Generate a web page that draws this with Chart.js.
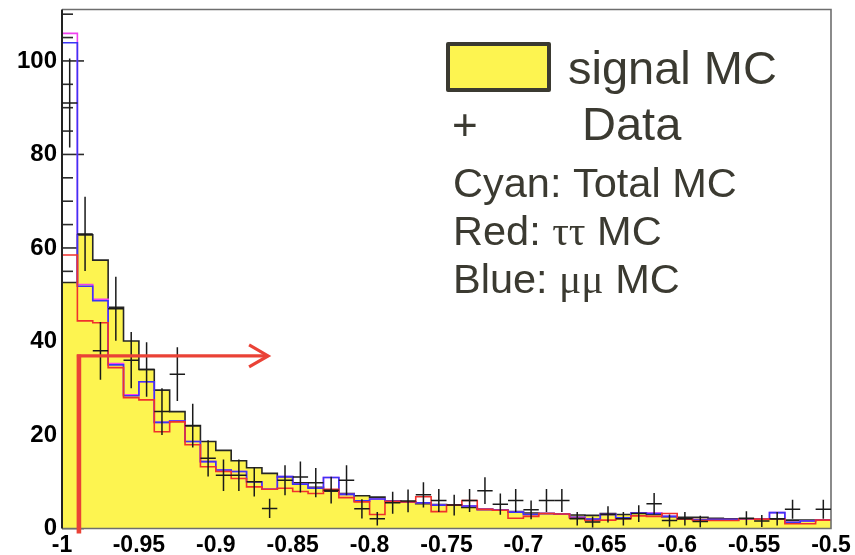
<!DOCTYPE html>
<html>
<head>
<meta charset="utf-8">
<script src="https://cdn.jsdelivr.net/npm/chart.js@4.4.0/dist/chart.umd.min.js"></script>
<style>
  html, body { margin: 0; padding: 0; background: #fff; }
</style>
</head>
<body>
<canvas id="chart" width="855" height="555"></canvas>
<script>
// cos(theta) distribution, 50 bins of 0.01 between -1 and -0.5
const xMin = -1.0;
const binWidth = 0.01;
const yMax = 111;

const xTickValues = [-1, -0.95, -0.9, -0.85, -0.8, -0.75, -0.7, -0.65, -0.6, -0.55, -0.5];
const xTickLabels = ['-1', '-0.95', '-0.9', '-0.85', '-0.8', '-0.75', '-0.7', '-0.65', '-0.6', '-0.55', '-0.5'];
const yTickValues = [0, 20, 40, 60, 80, 100];

const signalMC = [52.6, 62.8, 57.4, 47.3, 40.1, 34.0, 29.6, 25.0, 22.0, 18.6,
  16.7, 14.5, 13.0, 11.8, 11.0, 9.8, 8.8, 8.0, 7.5, 7.0,
  6.7, 5.9, 5.7, 5.3, 5.1, 5.0, 4.5, 4.1, 3.9, 3.6,
  3.3, 3.2, 3.1, 2.9, 2.8, 3.2, 3.0, 3.3, 3.0, 2.5,
  2.4, 2.4, 2.2, 2.1, 2.1, 2.1, 2.0, 1.8, 1.8, 1.8];

const totalMC = [105.9, 52.2, 49.0, 35.3, 28.6, 31.4, 22.7, 23.0, 18.6, 14.3,
  12.5, 12.2, 10.0, 8.4, 11.1, 9.5, 8.6, 10.9, 7.3, 5.9,
  6.3, 5.9, 5.7, 5.5, 5.0, 5.0, 4.8, 4.1, 3.95, 3.5,
  3.0, 3.2, 3.1, 2.4, 2.0, 3.0, 2.3, 3.3, 3.3, 2.6,
  2.1, 1.9, 1.9, 1.9, 2.1, 2.0, 3.4, 1.3, 1.6, 1.8];

const mumuMC = [103.9, 51.8, 48.7, 35.0, 28.4, 31.4, 22.7, 23.0, 18.6, 14.3,
  12.5, 12.2, 10.0, 8.4, 11.1, 9.5, 8.6, 10.9, 7.3, 5.9,
  6.3, 5.9, 5.7, 5.5, 5.0, 5.0, 4.8, 4.1, 3.95, 3.5,
  3.0, 3.2, 3.1, 2.4, 2.0, 3.0, 2.3, 3.3, 3.2, 2.6,
  2.1, 1.9, 1.9, 1.9, 2.1, 2.0, 3.4, 1.3, 1.6, 1.8];

const tautauMC = [58.5, 44.4, 44.0, 34.4, 28.0, 27.5, 20.7, 22.8, 17.9, 13.2,
  12.2, 10.7, 8.9, 8.4, 8.6, 7.9, 7.5, 8.4, 6.6, 5.7,
  3.0, 5.8, 5.7, 6.8, 3.6, 5.0, 6.0, 4.1, 3.9, 2.2,
  2.6, 3.2, 3.1, 2.2, 1.7, 1.8, 2.1, 2.7, 2.6, 3.2,
  2.0, 1.7, 1.7, 1.7, 2.1, 2.0, 2.1, 1.0, 1.0, 1.8];

const dataCounts = [91, 63, 38, 47, 36, 34, 25, 33, 22, 15,
  11.4, 11.4, 10, 4.3, 10.3, 11, 9.8, 8.2, 10.3, 4.2,
  2.1, 5.5, 5.9, 7.2, 6, 5, 6, 8.1, 5.2, 6,
  4, 6, 6, 2.1, 1.4, 3, 2.1, 3.2, 5.3, 1.7,
  2.1, 1.5, null, null, 2.2, 1.6, 2.1, 4.1, null, 4.1];

// cut marker: vertical at the cut value, arrow pointing to the kept region
const cutX = -0.989;
const cutY = 36.9;
const arrowTipX = -0.866;

const sansFont = "'Liberation Sans', Arial, Helvetica, sans-serif";
const serifFont = "'Liberation Serif', 'Times New Roman', serif";
const textColor = '#3b3a31';

function histPoints(values) {
  const pts = values.map((v, i) => ({ x: xMin + i * binWidth, y: v }));
  pts.push({ x: xMin + values.length * binWidth, y: values[values.length - 1] });
  return pts;
}

const dataPoints = [];
dataCounts.forEach((v, i) => {
  if (v !== null) dataPoints.push({ x: xMin + (i + 0.5) * binWidth, y: v });
});

const histDecor = {
  id: 'histDecor',
  beforeDatasetsDraw(chart) {
    // inward ticks on the y axis (major every 20, minor every 5)
    const { ctx, chartArea: a, scales: { y } } = chart;
    ctx.save();
    ctx.strokeStyle = '#2b2b2b';
    ctx.lineWidth = 1.6;
    for (let v = 0; v <= yMax; v += 5) {
      const py = y.getPixelForValue(v);
      const len = v % 20 === 0 ? 22 : 11;
      ctx.beginPath();
      ctx.moveTo(a.left, py);
      ctx.lineTo(a.left + len, py);
      ctx.stroke();
    }
    ctx.restore();
  },
  afterDatasetsDraw(chart) {
    const { ctx, chartArea: a, scales: { x, y } } = chart;
    ctx.save();

    // frame
    ctx.lineWidth = 1.6;
    ctx.strokeStyle = '#6e6e6e';
    ctx.beginPath();
    ctx.moveTo(a.left, a.top);
    ctx.lineTo(a.right, a.top);
    ctx.lineTo(a.right, a.bottom);
    ctx.lineTo(a.left, a.bottom);
    ctx.stroke();
    ctx.strokeStyle = '#222';
    ctx.lineWidth = 2;
    ctx.beginPath();
    ctx.moveTo(a.left, a.top);
    ctx.lineTo(a.left, a.bottom);
    ctx.stroke();

    // data points with sqrt(N) error bars
    const meta = chart.getDatasetMeta(4);
    ctx.strokeStyle = '#1a1a1a';
    ctx.lineWidth = 1.5;
    meta.data.forEach((pt, i) => {
      const d = dataPoints[i];
      const err = Math.sqrt(d.y);
      const x0 = x.getPixelForValue(d.x - binWidth / 2);
      const x1 = x.getPixelForValue(d.x + binWidth / 2);
      ctx.beginPath();
      ctx.moveTo(x0, pt.y);
      ctx.lineTo(x1, pt.y);
      ctx.moveTo(pt.x, y.getPixelForValue(d.y + err));
      ctx.lineTo(pt.x, y.getPixelForValue(Math.max(0, d.y - err)));
      ctx.stroke();
    });

    // cut arrow
    const cx = x.getPixelForValue(cutX);
    const cy = y.getPixelForValue(cutY);
    const tx = x.getPixelForValue(arrowTipX);
    ctx.strokeStyle = '#ea4236';
    ctx.lineCap = 'butt';
    ctx.lineWidth = 4.6;
    ctx.beginPath();
    ctx.moveTo(cx, cy - 1.5);
    ctx.lineTo(cx, a.bottom + 5);
    ctx.stroke();
    ctx.lineWidth = 3.2;
    ctx.beginPath();
    ctx.moveTo(cx - 2, cy);
    ctx.lineTo(tx, cy);
    ctx.stroke();
    ctx.lineJoin = 'miter';
    ctx.beginPath();
    ctx.moveTo(tx - 19, cy - 11);
    ctx.lineTo(tx, cy);
    ctx.lineTo(tx - 19, cy + 11);
    ctx.stroke();

    // legend
    ctx.fillStyle = '#fdf450';
    ctx.fillRect(448, 44, 101, 46);
    ctx.strokeStyle = textColor;
    ctx.lineWidth = 4;
    ctx.lineJoin = 'round';
    ctx.strokeRect(448, 44, 101, 46);

    ctx.fillStyle = textColor;
    ctx.textBaseline = 'alphabetic';
    ctx.textAlign = 'left';
    ctx.font = '47px ' + sansFont;
    ctx.fillText('signal MC', 568, 84);
    ctx.fillText('Data', 582, 140);
    ctx.font = '44px ' + sansFont;
    ctx.fillText('+', 452, 140);

    ctx.font = '41.5px ' + sansFont;
    ctx.fillText('Cyan: Total MC', 453, 197);

    const mixed = (parts, px, py) => {
      let cur = px;
      parts.forEach(([txt, fam]) => {
        ctx.font = '41.5px ' + fam;
        ctx.fillText(txt, cur, py);
        cur += ctx.measureText(txt).width;
      });
    };
    mixed([['Red: ', sansFont], ['\u03c4\u03c4', serifFont], [' MC', sansFont]], 453, 245);
    mixed([['Blue: ', sansFont], ['\u03bc\u03bc', serifFont], [' MC', sansFont]], 453, 293);

    ctx.restore();
  }
};

const lineDefaults = { stepped: 'before', pointRadius: 0, borderWidth: 1.6, fill: false, tension: 0 };

new Chart(document.getElementById('chart').getContext('2d'), {
  type: 'line',
  data: {
    datasets: [
      Object.assign({ label: 'tautau MC', data: histPoints(tautauMC), borderColor: '#f0302c' }, lineDefaults),
      Object.assign({ label: 'mumu MC', data: histPoints(mumuMC), borderColor: '#3b35f5' }, lineDefaults),
      Object.assign({ label: 'Total MC', data: histPoints(totalMC), borderColor: '#f040f0' }, lineDefaults),
      Object.assign({}, lineDefaults, {
        label: 'signal MC', data: histPoints(signalMC),
        borderColor: '#262626', backgroundColor: '#fdf450', fill: 'origin'
      }),
      { label: 'Data', data: dataPoints, showLine: false, pointRadius: 0, borderColor: '#1a1a1a' }
    ]
  },
  options: {
    responsive: false,
    animation: false,
    devicePixelRatio: 1,
    layout: { padding: { top: 9.5, right: 24, left: 0, bottom: 0 } },
    plugins: { legend: { display: false }, tooltip: { enabled: false } },
    scales: {
      x: {
        type: 'linear', min: -1, max: -0.5,
        grid: { display: false, drawTicks: false },
        border: { display: false },
        ticks: {
          color: '#000', padding: 3, maxRotation: 0, autoSkip: false,
          font: { family: sansFont, size: 23, weight: 'bold' },
          callback: (v, i) => xTickLabels[i]
        },
        afterBuildTicks: s => { s.ticks = xTickValues.map(v => ({ value: v })); },
        afterFit: s => { s.height = 26.5; s.paddingLeft = 0; s.paddingRight = 0; }
      },
      y: {
        type: 'linear', min: 0, max: yMax,
        grid: { display: false, drawTicks: false },
        border: { display: false },
        ticks: {
          color: '#000', padding: 5,
          font: { family: sansFont, size: 24, weight: 'bold' }
        },
        afterBuildTicks: s => { s.ticks = yTickValues.map(v => ({ value: v })); },
        afterFit: s => { s.width = 62; s.paddingTop = 0; s.paddingBottom = 0; }
      }
    }
  },
  plugins: [histDecor]
});
</script>
</body>
</html>
